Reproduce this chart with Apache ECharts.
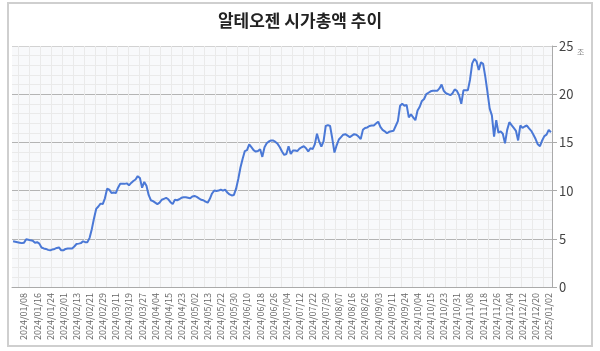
<!DOCTYPE html>
<html>
<head>
<meta charset="utf-8">
<script src="https://cdn.jsdelivr.net/npm/echarts@6/dist/echarts.min.js"></script>
<style>
  html, body { margin: 0; padding: 0; background: #fff; }
  #chart { width: 600px; height: 351px; }
</style>
</head>
<body>
<div id="chart"></div>
<script>
// 거래일 (월별)
const tradingDays = [
  ["2023/12", [28]],
  ["2024/01", [2, 3, 4, 5, 8, 9, 10, 11, 12, 15, 16, 17, 18, 19, 22, 23, 24, 25, 26, 29, 30, 31]],
  ["2024/02", [1, 2, 5, 6, 7, 8, 13, 14, 15, 16, 19, 20, 21, 22, 23, 26, 27, 28, 29]],
  ["2024/03", [4, 5, 6, 7, 8, 11, 12, 13, 14, 15, 18, 19, 20, 21, 22, 25, 26, 27, 28, 29]],
  ["2024/04", [1, 2, 3, 4, 5, 8, 9, 11, 12, 15, 16, 17, 18, 19, 22, 23, 24, 25, 26, 29, 30]],
  ["2024/05", [2, 3, 7, 8, 9, 10, 13, 14, 16, 17, 20, 21, 22, 23, 24, 27, 28, 29, 30, 31]],
  ["2024/06", [3, 4, 5, 7, 10, 11, 12, 13, 14, 17, 18, 19, 20, 21, 24, 25, 26, 27, 28]],
  ["2024/07", [1, 2, 3, 4, 5, 8, 9, 10, 11, 12, 15, 16, 17, 18, 19, 22, 23, 24, 25, 26, 29, 30, 31]],
  ["2024/08", [1, 2, 5, 6, 7, 8, 9, 12, 13, 14, 16, 19, 20, 21, 22, 23, 26, 27, 28, 29, 30]],
  ["2024/09", [2, 3, 4, 5, 6, 9, 10, 11, 12, 13, 19, 20, 23, 24, 25, 26, 27, 30]],
  ["2024/10", [2, 4, 7, 8, 10, 11, 14, 15, 16, 17, 18, 21, 22, 23, 24, 25, 28, 29, 30, 31]],
  ["2024/11", [1, 4, 5, 6, 7, 8, 11, 12, 13, 14, 15, 18, 19, 20, 21, 22, 25, 26, 27, 28, 29]],
  ["2024/12", [2, 3, 4, 5, 6, 9, 10, 11, 12, 13, 16, 17, 18, 19, 20, 23, 24, 26, 27, 30]],
  ["2025/01", [2, 3]]
];

// 시가총액 (조원)
const marketCap = [
  4.75, 4.7, 4.65, 4.6, 4.55, 4.6, 4.95, 4.9, 4.84, 4.8,
  4.6, 4.65, 4.5, 4.1, 4.0, 3.95, 3.85, 3.8, 3.9, 3.95,
  4.05, 4.1, 3.8, 3.8, 3.95, 4.0, 4.0, 4.0, 4.2, 4.46,
  4.5, 4.55, 4.74, 4.65, 4.65, 5.1, 6.0, 7.1, 8.1, 8.35,
  8.65, 8.6, 9.2, 10.2, 10.1, 9.75, 9.8, 9.75, 10.3, 10.7,
  10.7, 10.7, 10.75, 10.55, 10.8, 11.0, 11.15, 11.5, 11.3, 10.3,
  10.9, 10.5, 9.55, 9.0, 8.9, 8.75, 8.6, 8.75, 9.05, 9.15,
  9.25, 9.1, 8.8, 8.6, 9.05, 9.0, 9.1, 9.25, 9.3, 9.3,
  9.25, 9.2, 9.4, 9.45, 9.35, 9.2, 9.05, 9.0, 8.85, 8.75,
  9.15, 9.7, 10.0, 9.95, 10.0, 10.1, 10.0, 10.1, 9.8, 9.6,
  9.5, 9.55, 10.2, 11.2, 12.4, 13.3, 14.1, 14.2, 14.8, 14.5,
  14.2, 14.05, 14.1, 14.3, 13.5, 14.5, 14.9, 15.1, 15.2, 15.2,
  15.05, 14.85, 14.5, 14.05, 13.7, 13.8, 14.6, 13.8, 14.15, 14.15,
  14.1, 14.35, 14.5, 14.6, 14.4, 14.05, 14.4, 14.3, 14.8, 15.9,
  15.1, 14.55, 15.1, 16.7, 16.8, 16.7, 15.4, 13.95, 14.7, 15.3,
  15.55, 15.8, 15.85, 15.7, 15.55, 15.7, 15.85, 15.8, 15.6, 15.35,
  16.3, 16.5, 16.55, 16.7, 16.75, 16.75, 16.95, 17.15, 16.6, 16.3,
  16.15, 15.95, 16.1, 16.15, 16.2, 16.7, 17.2, 18.8, 19.0, 18.8,
  18.9, 17.6, 17.9, 17.6, 17.3, 18.3, 18.7, 19.3, 19.5, 20.0,
  20.15, 20.3, 20.35, 20.35, 20.35, 20.6, 21.0, 20.35, 20.1, 20.0,
  19.9, 20.1, 20.5, 20.35, 19.9, 19.0, 20.4, 20.4, 20.4, 21.5,
  23.2, 23.65, 23.4, 22.5, 23.3, 23.15, 21.8, 20.2, 18.5, 17.8,
  15.6, 17.3, 16.0, 16.15, 15.9, 14.9, 16.3, 17.1, 16.8, 16.5,
  16.2, 15.2, 16.75, 16.5, 16.65, 16.75, 16.45, 16.2, 15.8, 15.35,
  14.8, 14.6, 15.2, 15.65, 15.8, 16.3, 16.05
];

const yTicks = [0, 5, 10, 15, 20, 25];

const dates = tradingDays.flatMap(([ym, days]) =>
  days.map(d => ym + "/" + String(d).padStart(2, "0"))
);

const chart = echarts.init(document.getElementById("chart"));

const option = {
  backgroundColor: "#fff",
  animation: false,
  graphic: [
    {
      type: "rect",
      z: -10,
      shape: { x: 8, y: 3, width: 584, height: 343 },
      style: { fill: "#fff", stroke: "#cfcfcf", lineWidth: 2 }
    },
    {
      type: "text",
      left: 577,
      top: 48,
      style: { text: "조", fill: "#888", fontSize: 8, fontFamily: "Noto Sans CJK KR" }
    }
  ],
  title: {
    text: "알테오젠 시가총액 추이",
    left: "center",
    top: 7,
    textStyle: {
      fontFamily: "Noto Sans CJK KR",
      fontSize: 17,
      fontWeight: "bold",
      color: "#222"
    }
  },
  grid: {
    left: 12,
    right: 48,
    top: 46,
    bottom: 64,
    show: true,
    backgroundColor: "#f8f9fb",
    borderWidth: 0
  },
  xAxis: {
    type: "category",
    data: dates,
    boundaryGap: true,
    axisLine: { lineStyle: { color: "#aaa", width: 1 } },
    axisTick: {
      interval: 0,
      length: 3,
      lineStyle: { color: "#bbb" }
    },
    axisLabel: {
      rotate: 90,
      fontSize: 9,
      color: "#666",
      margin: 6,
      fontFamily: "Noto Sans CJK KR",
      interval: (i) => i >= 5 && (i - 5) % 6 === 0
    },
    splitLine: {
      show: true,
      interval: (i) => i % 5 === 3,
      lineStyle: { color: "#eaeaea", width: 1 }
    }
  },
  yAxis: {
    type: "value",
    position: "right",
    min: yTicks[0],
    max: yTicks[yTicks.length - 1],
    interval: 5,
    axisLine: { show: true, lineStyle: { color: "#aaa" } },
    axisTick: { show: true, length: 5, lineStyle: { color: "#aaa" } },
    axisLabel: {
      fontSize: 13,
      color: "#444",
      margin: 7,
      fontFamily: "Noto Sans CJK KR"
    },
    splitLine: {
      lineStyle: {
        color: ["#aaa", "#b4b4b4", "#b4b4b4", "#b4b4b4", "#b4b4b4", "#d2d2d2"],
        width: 1
      }
    },
    minorTick: { show: false, splitNumber: 5 },
    minorSplitLine: { show: true, lineStyle: { color: "#eaeaea", width: 1 } }
  },
  series: [
    {
      name: "시가총액",
      type: "line",
      data: marketCap,
      symbol: "none",
      lineStyle: { color: "#4a78d6", width: 2 },
      z: 5
    }
  ]
};

chart.setOption(option);
</script>
</body>
</html>
